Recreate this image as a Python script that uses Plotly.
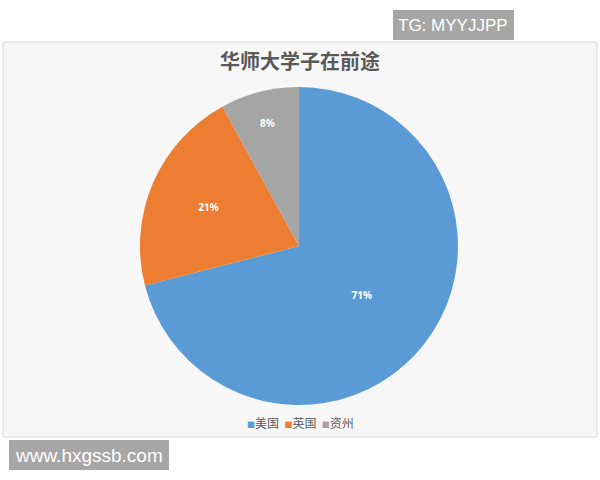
import plotly.graph_objects as graph

# slices, clockwise from 12 o'clock
labels = ['美国', '英国', '资州']
values = [71, 21, 8]
pct_text = ['71%', '21%', '8%']
colors = ['#5b9bd5', '#ed7d31', '#a5a5a5']

W, H = 600, 480


def px(x):
	return x / W


def py(y):
	return 1 - y / H


fig = graph.Figure()
fig.add_trace(graph.Pie(
	labels = labels, values = values, text = ['<b>%s</b>' % t for t in pct_text],
	textinfo = 'text', textposition = 'inside', insidetextorientation = 'horizontal',
	textfont = dict(color = 'white', size = 10, family = 'Noto Sans'),
	marker = dict(colors = colors, line = dict(width = 0)),
	sort = False, direction = 'clockwise', rotation = 0,
	domain = dict(x = [px(140), px(458)], y = [py(405), py(87)]),
	hoverinfo = 'label+percent', showlegend = False
))

#chart frame and the two watermark boxes
shapes = [
	dict(type = 'rect', xref = 'paper', yref = 'paper', x0 = px(3), x1 = px(597), y0 = py(437), y1 = py(42),
		fillcolor = '#f7f7f7', line = dict(color = '#d9d9d9', width = 1), layer = 'below'),
	dict(type = 'rect', xref = 'paper', yref = 'paper', x0 = px(393), x1 = px(514), y0 = py(40), y1 = py(10),
		fillcolor = '#a6a6a6', line = dict(width = 0)),
	dict(type = 'rect', xref = 'paper', yref = 'paper', x0 = px(9), x1 = px(169), y0 = py(470), y1 = py(440),
		fillcolor = '#a6a6a6', line = dict(width = 0)),
]

#legend written out as one line of text, small squares like the original
legend_txt = '  '.join('<span style="color:%s;font-size:8px">■</span>%s' % (c, l) for c, l in zip(colors, labels))

annotations = [
	dict(text = 'TG: MYYJJPP', x = px(453), y = py(25), xref = 'paper', yref = 'paper', showarrow = False,
		xanchor = 'center', yanchor = 'middle',
		font = dict(color = 'white', size = 17, family = 'Liberation Sans')),
	dict(text = 'www.hxgssb.com', x = px(89), y = py(455), xref = 'paper', yref = 'paper', showarrow = False,
		xanchor = 'center', yanchor = 'middle',
		font = dict(color = 'white', size = 19, family = 'Liberation Sans')),
	dict(text = legend_txt, x = 0.5, y = py(422), xref = 'paper', yref = 'paper', showarrow = False,
		xanchor = 'center', yanchor = 'middle',
		font = dict(size = 12, color = '#595959', family = 'Noto Sans CJK SC')),
]

fig.update_layout(
	width = W, height = H,
	margin = dict(l = 0, r = 0, t = 0, b = 0),
	paper_bgcolor = 'white', plot_bgcolor = 'white',
	title = dict(text = '<b>华师大学子在前途</b>', x = 0.5, xanchor = 'center', y = py(62), yanchor = 'middle',
		font = dict(size = 20, color = '#595959', family = 'Noto Sans CJK SC')),
	shapes = shapes,
	annotations = annotations,
)

#page has a default 8px body margin, drop it so the figure sits at 0,0
fig.write_html("out.html", config = dict(displayModeBar = False),
	post_script = "document.body.style.margin='0';")
